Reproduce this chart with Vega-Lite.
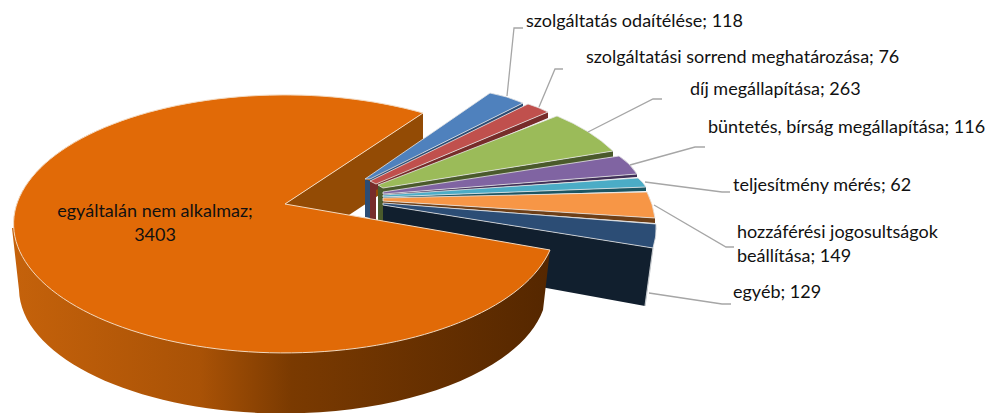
{
"$schema":"https://vega.github.io/schema/vega-lite/v6.json",
"width":997,"height":413,"padding":0,"autosize":{"type":"none"},"background":"white",
"config":{"view":{"stroke":null},"text":{"font":"Lato","fontSize":18,"color":"#111111"}},
"datasets":{"slices":[
{"name":"szolgáltatás odaítélése","value":118,"label":"szolgáltatás odaítélése; 118"},
{"name":"szolgáltatási sorrend meghatározása","value":76,"label":"szolgáltatási sorrend meghatározása; 76"},
{"name":"díj megállapítása","value":263,"label":"díj megállapítása; 263"},
{"name":"büntetés, bírság megállapítása","value":116,"label":"büntetés, bírság megállapítása; 116"},
{"name":"teljesítmény mérés","value":62,"label":"teljesítmény mérés; 62"},
{"name":"hozzáférési jogosultságok beállítása","value":149,"label":"hozzáférési jogosultságok\nbeállítása; 149"},
{"name":"egyéb","value":129,"label":"egyéb; 129"},
{"name":"egyáltalán nem alkalmaz","value":3403,"label":"egyáltalán nem alkalmaz;\n3403"}
]},
"data":{"name":"slices"},
"encoding":{
"x":{"datum":0,"type":"quantitative","scale":{"domain":[0,997],"range":[0,997]},"axis":null},
"y":{"datum":0,"type":"quantitative","scale":{"domain":[0,413],"range":[0,413]},"axis":null}
},
"resolve":{"scale":{"color":"independent","shape":"independent"}},
"layer":[
{"transform":[{"filter":"datum.value > 3000"}],
"mark":{"type":"point","filled":true,"opacity":1,"size":4,"fill":"#934b05","shape":"M285,204L423,113L423,166L349,215L300,240Z"}},
{"transform":[{"filter":"datum.value < 3000"}],
"mark":{"type":"point","filled":true,"opacity":1,"size":4},
"encoding":{
"color":{"field":"name","type":"nominal","legend":null,"scale":{"domain":["szolgáltatás odaítélése","szolgáltatási sorrend meghatározása","díj megállapítása","büntetés, bírság megállapítása","teljesítmény mérés","hozzáférési jogosultságok beállítása","egyéb"],"range":["#2c4d75","#772c2a","#4a5a2b","#3f2f56","#1d5663","#6e3f17","#111f2e"]}},
"shape":{"field":"name","type":"nominal","legend":null,"scale":{"domain":["szolgáltatás odaítélése","szolgáltatási sorrend meghatározása","díj megállapítása","büntetés, bírság megállapítása","teljesítmény mérés","hozzáférési jogosultságok beállítása","egyéb"],"range":[
"M365,179L370,181L370,218L365,217Z M370,179L523,103L523,106.5L370,182Z",
"M370,181L376,184L376,220L370,219Z M376,184L548,112L548,118L376,190Z",
"M378,185L383,188L383,222L378,221Z M383,188L613,151L613,157L383,195Z",
"M383,194L637,174L637,177L383,196Z",
"M383,197L646,187L646,191L383,199Z",
"M383,201L655,218L655,223L383,203Z",
"M383,205L653,248L645,306L383,258Z"
]}}
}},
{"transform":[{"filter":"datum.value < 3000"}],
"mark":{"type":"point","filled":true,"opacity":1,"size":4,"stroke":"#e4e4e4","strokeWidth":0.8},
"encoding":{
"color":{"field":"name","type":"nominal","legend":null,"scale":{"domain":["szolgáltatás odaítélése","szolgáltatási sorrend meghatározása","díj megállapítása","büntetés, bírság megállapítása","teljesítmény mérés","hozzáférési jogosultságok beállítása","egyéb"],"range":["#4f81bd","#c0504d","#9bbb59","#8064a2","#4bacc6","#f79646","#2c4d75"]}},
"shape":{"field":"name","type":"nominal","legend":null,"scale":{"domain":["szolgáltatás odaítélése","szolgáltatási sorrend meghatározása","díj megállapítása","büntetés, bírság megállapítása","teljesítmény mérés","hozzáférési jogosultságok beállítása","egyéb"],"range":[
"M365,179L490,93Q507,96 523,103L370,179Z",
"M370,181L528,104Q538,107 548,112L376,184Z",
"M378,185L557,116Q591,130 613,151L383,188Z",
"M383,192L619,156Q630,163 637,174L383,194Z",
"M383,195L638,178Q643,182 646,187L383,197Z",
"M383,198L647,192Q653,204 655,218L383,201Z",
"M383,203L656,224Q657,236 653,248L383,205Z"
]}}
}},
{"transform":[{"filter":"datum.name == 'egyéb'"}],
"mark":{"type":"point","filled":false,"opacity":1,"size":4,"color":"#c4c8cc","strokeWidth":1.2,"shape":"M653,248L645,306"}},
{"transform":[{"filter":"datum.value > 3000"}],
"mark":{"type":"point","filled":true,"opacity":1,"size":4,"shape":"M12,228L550,250L543,310A264,125 0 0 1 19,290Z",
"fill":{"gradient":"linear","x1":0,"y1":0,"x2":1,"y2":0,"stops":[{"offset":0,"color":"#c5620b"},{"offset":0.35,"color":"#a95206"},{"offset":0.52,"color":"#7a3a01"},{"offset":1,"color":"#552700"}]}}},
{"transform":[{"filter":"datum.value > 3000"}],
"mark":{"type":"point","filled":true,"opacity":1,"size":4,"fill":"#e16a07","stroke":"#f3d9bf","strokeWidth":1,"shape":"M285,204L423,113A271,129 0 1 0 550,250Z"}},
{"transform":[{"filter":"datum.value < 3000"}],
"mark":{"type":"point","filled":false,"opacity":1,"size":4,"color":"#a6a6a6","strokeWidth":1.3},
"encoding":{"shape":{"field":"name","type":"nominal","legend":null,"scale":{"domain":["szolgáltatás odaítélése","szolgáltatási sorrend meghatározása","díj megállapítása","büntetés, bírság megállapítása","teljesítmény mérés","hozzáférési jogosultságok beállítása","egyéb"],"range":[
"M507,96L514,28L523,28",
"M539,107L555,69L563,69",
"M588,132L653,99L662,99",
"M630,165L695,147L705,147",
"M645,182L722,192L730,192",
"M654,205L726,247L734,247",
"M649,293L722,304L731,304"
]}}}
},
{"transform":[{"filter":"datum.name == 'szolgáltatás odaítélése'"}],"mark":{"type":"text","align":"left","baseline":"middle"},"encoding":{"x":{"datum":526},"y":{"datum":22},"text":{"field":"label"}}},
{"transform":[{"filter":"datum.name == 'szolgáltatási sorrend meghatározása'"}],"mark":{"type":"text","align":"left","baseline":"middle"},"encoding":{"x":{"datum":586},"y":{"datum":58},"text":{"field":"label"}}},
{"transform":[{"filter":"datum.name == 'díj megállapítása'"}],"mark":{"type":"text","align":"left","baseline":"middle"},"encoding":{"x":{"datum":690},"y":{"datum":90},"text":{"field":"label"}}},
{"transform":[{"filter":"datum.name == 'büntetés, bírság megállapítása'"}],"mark":{"type":"text","align":"left","baseline":"middle"},"encoding":{"x":{"datum":708},"y":{"datum":128},"text":{"field":"label"}}},
{"transform":[{"filter":"datum.name == 'teljesítmény mérés'"}],"mark":{"type":"text","align":"left","baseline":"middle"},"encoding":{"x":{"datum":733},"y":{"datum":186},"text":{"field":"label"}}},
{"transform":[{"filter":"datum.name == 'hozzáférési jogosultságok beállítása'"}],"mark":{"type":"text","align":"left","baseline":"middle","lineBreak":"\n","lineHeight":24},"encoding":{"x":{"datum":737},"y":{"datum":233},"text":{"field":"label"}}},
{"transform":[{"filter":"datum.name == 'egyéb'"}],"mark":{"type":"text","align":"left","baseline":"middle"},"encoding":{"x":{"datum":733},"y":{"datum":293},"text":{"field":"label"}}},
{"transform":[{"filter":"datum.value > 3000"}],"mark":{"type":"text","align":"center","baseline":"middle","lineBreak":"\n","lineHeight":24},"encoding":{"x":{"datum":155},"y":{"datum":212},"text":{"field":"label"}}}
]
}
